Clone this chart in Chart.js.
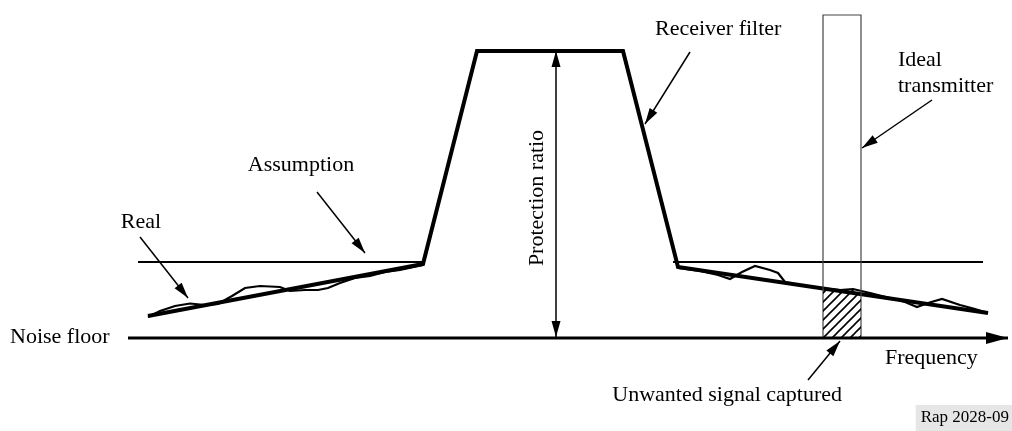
<!DOCTYPE html>
<html>
<head>
<meta charset="utf-8">
<script src="https://cdn.jsdelivr.net/npm/chart.js@4/dist/chart.umd.min.js"></script>
<style>
  body { margin: 0; background: #fff; }
  #wrap { width: 1012px; height: 431px; position: relative; }
</style>
</head>
<body>
<div id="wrap"><canvas id="diagram"></canvas></div>
<script>
// Receiver filter shape (frequency units, level units: 0 = top of picture)
const filterX = [148, 423, 477, 623, 678, 988];
const filterY = [316, 264, 51, 51, 267, 313];

// "Assumption" flat levels either side of the filter
const assumeLeftX = [138, 423];
const assumeRightX = [673, 983];
const assumeLevel = 262;

// measured (real) emission, left and right of the filter
const realLeftX = [148, 160, 175, 190, 205, 218, 232, 245, 260, 280, 290, 305, 318, 328, 340, 355, 370, 385, 400, 423];
const realLeftY = [317, 311, 306, 303.5, 305, 304, 296, 288, 286, 287, 291, 290, 290, 288, 283, 278, 276, 272, 270, 265];
const realRightX = [678, 700, 718, 730, 742, 755, 770, 778, 785, 800, 820, 840, 853, 870, 890, 905, 917, 928, 942, 960, 975, 988];
const realRightY = [268, 271, 275, 279, 272, 266, 270, 273, 282, 285, 288, 290, 289, 293, 298, 302, 307, 303, 299, 305, 309, 313];

// ideal transmitter block and the captured part
const txX = [823, 823, 861, 861];
const txY = [337, 15, 15, 337];
const capturedX = [823, 853, 861];
const capturedY = [289, 289, 294];

// noise floor / frequency axis
const noiseX = [128, 1008];
const noiseLevel = 338;

// protection ratio span
const protX = 556;
const protY = [51, 337];

// pointer arrows [x0, y0, x1, y1]
const pointers = [
  [140, 237, 188, 298],   // Real
  [317, 192, 365, 253],   // Assumption
  [690, 52, 645, 124],    // Receiver filter
  [932, 100, 862, 148],   // Ideal transmitter
  [808, 380, 840, 341]    // Unwanted signal captured
];

// text labels
const labels = [
  { text: 'Real', x: 141, y: 222, align: 'center' },
  { text: 'Assumption', x: 301, y: 165, align: 'center' },
  { text: 'Receiver filter', x: 655, y: 29, align: 'left' },
  { text: 'Ideal', x: 898, y: 60, align: 'left' },
  { text: 'transmitter', x: 898, y: 86, align: 'left' },
  { text: 'Noise floor', x: 10, y: 337, align: 'left' },
  { text: 'Frequency', x: 885, y: 358, align: 'left' },
  { text: 'Unwanted signal captured', x: 842, y: 395, align: 'right' },
  { text: 'Protection ratio', x: 537, y: 198, align: 'center', rotate: true }
];

function pts(xs, ys) {
  return xs.map((x, i) => ({ x: x, y: Array.isArray(ys) ? ys[i] : ys }));
}

// hatch pattern for the captured area
function hatch() {
  const c = document.createElement('canvas');
  c.width = 9; c.height = 9;
  const g = c.getContext('2d');
  g.strokeStyle = '#000';
  g.lineWidth = 1.6;
  g.beginPath();
  g.moveTo(0, 9); g.lineTo(9, 0);
  g.moveTo(-2, 2); g.lineTo(2, -2);
  g.moveTo(7, 11); g.lineTo(11, 7);
  g.stroke();
  return g.createPattern(c, 'repeat');
}

function line(data, width, color, extra) {
  return Object.assign({
    data: data,
    showLine: true,
    borderColor: color || '#000',
    borderWidth: width,
    pointRadius: 0,
    fill: false,
    tension: 0
  }, extra || {});
}

const datasets = [
  line(pts(capturedX, capturedY), 0, 'rgba(0,0,0,0)',
       { fill: { value: noiseLevel }, backgroundColor: hatch() }),
  line(pts(txX, txY), 1.2, '#444'),
  line(pts(assumeLeftX, assumeLevel), 2, '#000'),
  line(pts(assumeRightX, assumeLevel), 2, '#000'),
  line(pts(realLeftX, realLeftY), 2.2, '#000'),
  line(pts(realRightX, realRightY), 2.2, '#000'),
  line(pts(filterX, filterY), 4, '#000', { borderJoinStyle: 'miter' }),
  line(pts(noiseX, noiseLevel), 3, '#000', { arrowEnd: { len: 22, half: 6 } }),
  line([{ x: protX, y: protY[0] }, { x: protX, y: protY[1] }], 1.5, '#000',
       { arrowEnd: { len: 16, half: 4.5 }, arrowStart: { len: 16, half: 4.5 } })
];
pointers.forEach(p => {
  datasets.push(line([{ x: p[0], y: p[1] }, { x: p[2], y: p[3] }], 1.5, '#000', { arrowEnd: { len: 16, half: 4.5 } }));
});

function head(ctx, from, to, a) {
  const ang = Math.atan2(to.y - from.y, to.x - from.x);
  ctx.save();
  ctx.translate(to.x, to.y);
  ctx.rotate(ang);
  ctx.fillStyle = '#000';
  ctx.beginPath();
  ctx.moveTo(0, 0);
  ctx.lineTo(-a.len, -a.half);
  ctx.lineTo(-a.len, a.half);
  ctx.closePath();
  ctx.fill();
  ctx.restore();
}

const arrowPlugin = {
  id: 'arrows',
  afterDatasetsDraw(chart) {
    const ctx = chart.ctx;
    chart.data.datasets.forEach((ds, i) => {
      const pts = chart.getDatasetMeta(i).data;
      if (ds.arrowEnd) head(ctx, pts[pts.length - 2], pts[pts.length - 1], ds.arrowEnd);
      if (ds.arrowStart) head(ctx, pts[1], pts[0], ds.arrowStart);
    });
  }
};

const textPlugin = {
  id: 'texts',
  afterDraw(chart) {
    const ctx = chart.ctx;
    const xs = chart.scales.x, ys = chart.scales.y;
    ctx.save();
    ctx.fillStyle = '#000';
    ctx.font = '22px "Liberation Serif"';
    ctx.textBaseline = 'middle';
    labels.forEach(l => {
      const px = xs.getPixelForValue(l.x), py = ys.getPixelForValue(l.y);
      ctx.save();
      ctx.translate(px, py);
      if (l.rotate) ctx.rotate(-Math.PI / 2);
      ctx.textAlign = l.align;
      ctx.fillText(l.text, 0, 0);
      ctx.restore();
    });
    // figure reference tag, bottom right
    ctx.font = '17px "Liberation Serif"';
    const tag = 'Rap 2028-09';
    const w = ctx.measureText(tag).width;
    const right = xs.getPixelForValue(1012);
    ctx.fillStyle = '#e6e6e6';
    ctx.fillRect(right - w - 8, ys.getPixelForValue(405), w + 8, 26);
    ctx.fillStyle = '#000';
    ctx.textAlign = 'right';
    ctx.fillText(tag, right - 3, ys.getPixelForValue(418));
    ctx.restore();
  }
};

new Chart(document.getElementById('diagram'), {
  type: 'scatter',
  data: { datasets: datasets },
  options: {
    responsive: true,
    maintainAspectRatio: false,
    animation: false,
    layout: { padding: 0 },
    plugins: { legend: { display: false }, tooltip: { enabled: false } },
    scales: {
      x: { type: 'linear', min: 0, max: 1012, display: false },
      y: { type: 'linear', min: 0, max: 431, reverse: true, display: false }
    }
  },
  plugins: [arrowPlugin, textPlugin]
});
</script>
</body>
</html>
